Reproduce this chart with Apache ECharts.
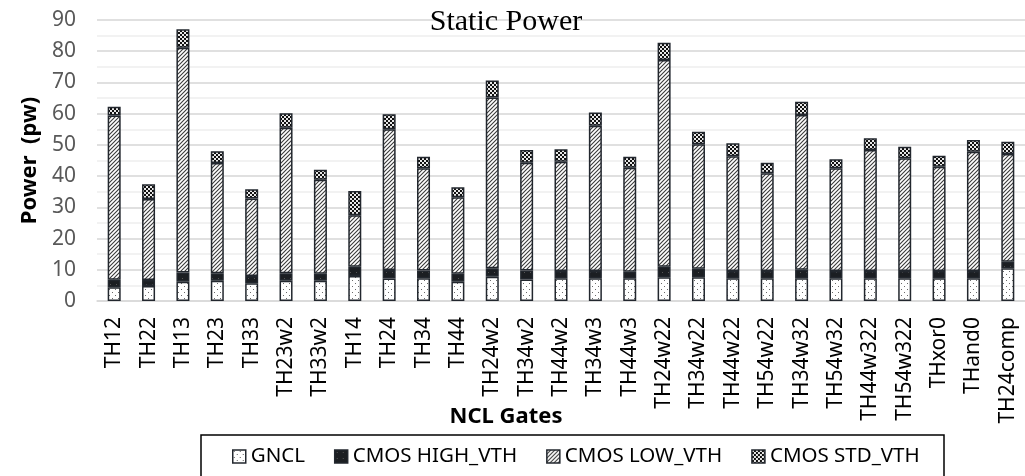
<!DOCTYPE html>
<html>
<head>
<meta charset="utf-8">
<title>Static Power</title>
<script src="https://cdn.jsdelivr.net/npm/echarts@6/dist/echarts.min.js"></script>
<style>
  html, body { margin: 0; padding: 0; background: #fff; }
  #chart { width: 1025px; height: 476px; }
</style>
</head>
<body>
<div id="chart"></div>
<script>
// NCL gate names along the x axis
const categories = ['TH12', 'TH22', 'TH13', 'TH23', 'TH33', 'TH23w2', 'TH33w2', 'TH14', 'TH24', 'TH34', 'TH44',
  'TH24w2', 'TH34w2', 'TH44w2', 'TH34w3', 'TH44w3', 'TH24w22', 'TH34w22', 'TH44w22', 'TH54w22', 'TH34w32',
  'TH54w32', 'TH44w322', 'TH54w322', 'THxor0', 'THand0', 'TH24comp'];

// Static power components (pW), stacked bottom to top
const gncl = [4.4, 4.8, 6.2, 6.5, 5.7, 6.5, 6.5, 8.0, 7.2, 7.3, 6.2, 7.8, 6.9, 7.3, 7.3, 7.3, 7.6, 7.6, 7.3, 7.3, 7.3, 7.3, 7.3, 7.3, 7.3, 7.3, 10.5];
const cmosHighVth = [2.4, 1.9, 2.9, 2.4, 2.3, 2.4, 2.2, 3.0, 2.7, 2.5, 2.5, 2.7, 2.9, 2.3, 2.3, 2.1, 3.4, 2.7, 2.3, 2.3, 2.7, 2.3, 2.3, 2.3, 2.3, 2.3, 2.1];
const cmosLowVth = [52.6, 26.0, 72.0, 35.3, 24.8, 46.6, 30.1, 16.5, 45.1, 32.7, 24.5, 54.7, 34.5, 35.0, 46.5, 33.3, 66.2, 39.9, 36.8, 31.3, 49.6, 32.9, 38.8, 36.1, 33.4, 38.2, 34.5];
const cmosStdVth = [2.8, 4.7, 5.9, 3.8, 3.0, 4.6, 3.2, 7.7, 4.8, 3.7, 3.2, 5.4, 4.1, 4.0, 4.3, 3.5, 5.5, 4.0, 4.1, 3.4, 4.2, 2.9, 3.7, 3.7, 3.5, 3.8, 3.9];

const seriesNames = ['GNCL', 'CMOS HIGH_VTH', 'CMOS LOW_VTH', 'CMOS STD_VTH'];
const yTicks = { min: 0, max: 90, interval: 10 };

// Small repeating tiles used as fill patterns
function tile(size, draw) {
  const c = document.createElement('canvas');
  c.width = size; c.height = size;
  const g = c.getContext('2d');
  draw(g, size);
  return { image: c, repeat: 'repeat' };
}

const dotFill = tile(6, (g, s) => {
  g.fillStyle = '#ffffff'; g.fillRect(0, 0, s, s);
  g.fillStyle = '#6a6a6a';
  g.fillRect(1, 1, 1, 1);
  g.fillRect(4, 4, 1, 1);
});

const darkFill = tile(6, (g, s) => {
  g.fillStyle = '#1b1e22'; g.fillRect(0, 0, s, s);
  g.fillStyle = '#555555';
  g.fillRect(2, 2, 1, 1);
});

const hatchFill = tile(4, (g, s) => {
  g.fillStyle = '#ffffff'; g.fillRect(0, 0, s, s);
  g.strokeStyle = '#3a3a3a'; g.lineWidth = 1.1;
  g.beginPath();
  g.moveTo(-1, s + 1); g.lineTo(s + 1, -1);
  g.moveTo(-1, 1); g.lineTo(1, -1);
  g.moveTo(s - 1, s + 1); g.lineTo(s + 1, s - 1);
  g.stroke();
});

const checkFill = tile(4, (g, s) => {
  g.fillStyle = '#111111'; g.fillRect(0, 0, s, s);
  g.fillStyle = '#e8e8e8';
  g.fillRect(0, 0, 2, 2);
  g.fillRect(2, 2, 2, 2);
});

const fills = [dotFill, darkFill, hatchFill, checkFill];
const values = [gncl, cmosHighVth, cmosLowVth, cmosStdVth];

const edge = { borderColor: '#22272e', borderWidth: 1.5 };

const chart = echarts.init(document.getElementById('chart'), null, { renderer: 'canvas' });

chart.setOption({
  animation: false,
  backgroundColor: '#ffffff',
  title: [
    {
      text: 'Static Power',
      left: 506, top: 7, textAlign: 'center', padding: 0,
      textStyle: { fontFamily: 'Liberation Serif', fontSize: 30, fontWeight: 'normal', color: '#000' }
    },
    {
      text: 'NCL Gates',
      left: 506, top: 406, textAlign: 'center', padding: 0,
      textStyle: { fontFamily: 'Noto Sans', fontSize: 22, fontWeight: 'bold', color: '#000' }
    }
  ],
  grid: { left: 97, top: 20, width: 935, height: 281, containLabel: false },
  legend: {
    left: 232, top: 446, padding: 0,
    itemWidth: 13, itemHeight: 13, itemGap: 29,
    icon: 'rect',
    textStyle: { fontFamily: 'Noto Sans', fontSize: 20.5, color: '#000', padding: [0, 0, 0, 0] },
    data: seriesNames.map((n, i) => ({ name: n, itemStyle: Object.assign({ color: fills[i] }, edge) }))
  },
  graphic: [{
    type: 'rect',
    shape: { x: 201, y: 435, width: 743, height: 60 },
    style: { fill: 'none', stroke: '#000', lineWidth: 1.5 },
    silent: true
  }],
  xAxis: {
    type: 'category',
    data: categories,
    axisLine: { show: true, lineStyle: { color: '#d9d9d9', width: 1.5 } },
    axisTick: { show: false },
    axisLabel: {
      rotate: 90, margin: 16, interval: 0,
      fontFamily: 'Noto Sans', fontSize: 21, color: '#000'
    }
  },
  yAxis: {
    type: 'value',
    min: yTicks.min, max: yTicks.max, interval: yTicks.interval,
    name: 'Power  (pw)',
    nameLocation: 'middle',
    nameGap: 54,
    nameTextStyle: { fontFamily: 'Noto Sans', fontSize: 22, fontWeight: 'bold', color: '#000' },
    axisLine: { show: false },
    axisTick: { show: false },
    axisLabel: { margin: 21, fontFamily: 'Noto Sans', fontSize: 21, color: '#595959' },
    splitLine: { show: true, lineStyle: { color: '#d6d6d6', width: 1.5 } },
    minorTick: { show: false, splitNumber: 2 },
    minorSplitLine: { show: true, lineStyle: { color: '#eeeeee', width: 1.5 } }
  },
  series: seriesNames.map((n, i) => ({
    name: n,
    type: 'bar',
    stack: 'power',
    barWidth: 13,
    data: values[i],
    itemStyle: Object.assign({ color: fills[i] }, edge),
    emphasis: { disabled: true }
  }))
});
</script>
</body>
</html>
